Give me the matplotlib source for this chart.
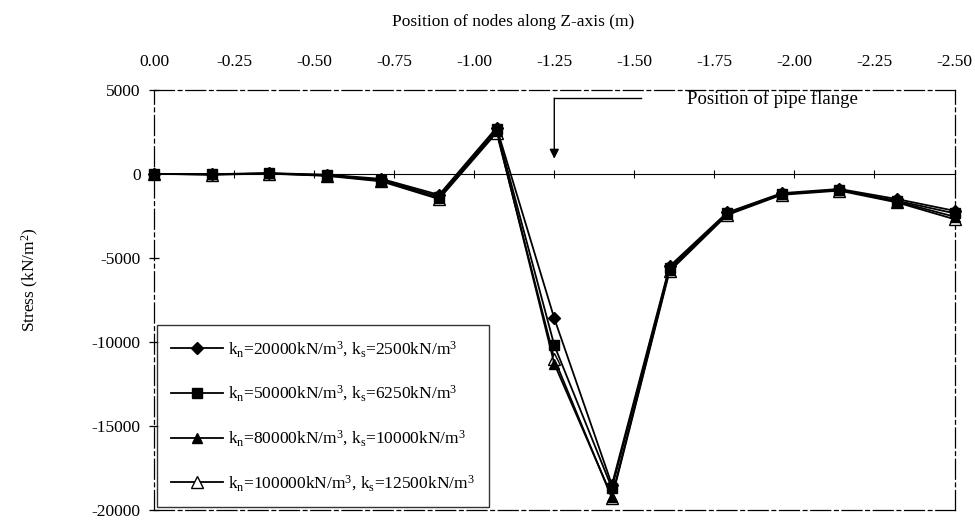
import matplotlib

matplotlib.use("Agg")
import matplotlib.pyplot as plt

plt.rcParams["font.family"] = ["Liberation Serif", "DejaVu Serif"]
plt.rcParams["mathtext.fontset"] = "custom"
plt.rcParams["mathtext.rm"] = "Liberation Serif"
plt.rcParams["mathtext.it"] = "Liberation Serif:italic"

# node positions along the pipe (m)
z_nodes = [0.0, -0.18, -0.36, -0.54, -0.71, -0.89, -1.07, -1.25,
           -1.43, -1.61, -1.79, -1.96, -2.14, -2.32, -2.50]

# stress at each node (kN/m^2) for four soil stiffness cases
stress_kn20000 = [0, -20, 40, -50, -300, -1250, 2750, -8600,
                  -18500, -5500, -2300, -1150, -900, -1500, -2200]
stress_kn50000 = [0, -30, 30, -80, -350, -1350, 2650, -10200,
                  -18700, -5600, -2350, -1200, -950, -1600, -2350]
stress_kn80000 = [0, -40, 20, -100, -400, -1450, 2550, -11300,
                  -19200, -5700, -2400, -1200, -950, -1650, -2550]
stress_kn100000 = [0, -50, 10, -120, -450, -1500, 2450, -11000,
                   -19300, -5800, -2450, -1250, -1000, -1700, -2700]

labels = [
    r"k$_\mathrm{n}$=20000kN/m$^3$, k$_\mathrm{s}$=2500kN/m$^3$",
    r"k$_\mathrm{n}$=50000kN/m$^3$, k$_\mathrm{s}$=6250kN/m$^3$",
    r"k$_\mathrm{n}$=80000kN/m$^3$, k$_\mathrm{s}$=10000kN/m$^3$",
    r"k$_\mathrm{n}$=100000kN/m$^3$, k$_\mathrm{s}$=12500kN/m$^3$",
]

x_ticks = [0.0, -0.25, -0.50, -0.75, -1.00, -1.25, -1.50, -1.75, -2.00, -2.25, -2.50]
y_ticks = [5000, 0, -5000, -10000, -15000, -20000]

flange_z = -1.25

fig = plt.figure(figsize=(9.75, 5.22), dpi=100)
ax = fig.add_axes([0.158, 0.023, 0.821, 0.805])

styles = [
    dict(marker="D", mfc="black", ms=6, zorder=6),
    dict(marker="s", mfc="black", ms=7, zorder=5),
    dict(marker="^", mfc="black", ms=7, zorder=4),
    dict(marker="^", mfc="white", ms=8, zorder=3),
]
series = [stress_kn20000, stress_kn50000, stress_kn80000, stress_kn100000]
for vals, st, lab in zip(series, styles, labels):
    ax.plot(z_nodes, vals, color="black", lw=1.3, mec="black", mew=1.0,
            label=lab, clip_on=False, **st)

ax.set_xlim(0, -2.5)
ax.set_ylim(-20000, 5000)

# frame drawn with broken lines
for name, sp in ax.spines.items():
    sp.set_linewidth(0.9)
    sp.set_linestyle((0, (16, 3, 3, 3)))

ax.xaxis.tick_top()
ax.set_xticks(x_ticks)
ax.set_xticklabels([f"{v:.2f}" for v in x_ticks])
ax.tick_params(axis="x", length=0, pad=14, labelsize=12.5)

ax.set_yticks(y_ticks)
ax.set_yticklabels([f"{v:d}" for v in y_ticks])
ax.tick_params(axis="y", direction="inout", length=7, width=0.9, labelsize=12.5, pad=6)

# axis line through zero stress with tick marks
zero_frac = (0 - (-20000)) / (5000 - (-20000))
zero_axis = ax.secondary_xaxis(zero_frac)
zero_axis.set_xticks(x_ticks)
zero_axis.set_xticklabels([])
zero_axis.tick_params(direction="inout", length=6, width=0.8)
zero_axis.spines["bottom"].set_linewidth(0.9)
zero_axis.spines["bottom"].set_linestyle((0, (12, 3, 2, 3)))

# flange marker
ax.annotate("", xy=(flange_z, 900), xytext=(flange_z, 4500),
            arrowprops=dict(arrowstyle="-|>", color="black", lw=1.0,
                            mutation_scale=14, shrinkA=0, shrinkB=0))
ax.plot([flange_z, -1.52], [4500, 4500], color="black", lw=1.0)
ax.text(-1.93, 4450, "Position of pipe flange", ha="center", va="center",
        fontsize=13.5)

leg = ax.legend(loc="lower left", bbox_to_anchor=(0.004, 0.007), fontsize=12.5,
                frameon=True, fancybox=False, edgecolor="black",
                handlelength=3.0, handletextpad=0.3, labelspacing=1.45,
                borderpad=0.8, borderaxespad=0)
leg.get_frame().set_linewidth(1.0)

fig.text(513 / 975, 1 - 22 / 522, "Position of nodes along Z-axis (m)",
         ha="center", va="center", fontsize=12.5)
fig.text(30 / 975, 1 - 280 / 522, "Stress (kN/m$^2$)", rotation=90,
         ha="center", va="center", fontsize=12.5)

fig.savefig("out.png", dpi=100)
plt.close(fig)
